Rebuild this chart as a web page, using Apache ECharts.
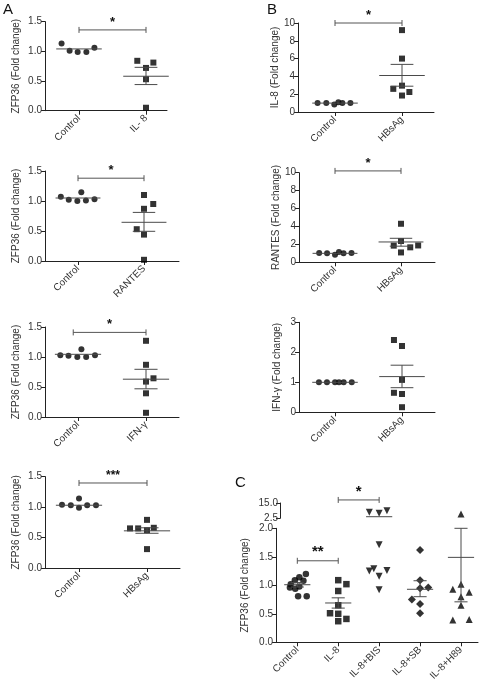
<!DOCTYPE html>
<html><head><meta charset="utf-8">
<script src="https://cdn.jsdelivr.net/npm/echarts@6/dist/echarts.min.js"></script>
<style>html,body{margin:0;padding:0;background:#fff}#c{width:484px;height:692px}</style>
</head><body><div id="c"></div>
<script>
// ================= DATA =================
// Panel A1: ZFP36 after IL-8
const a1Categories = ['Control', 'IL- 8'];
const a1Control = [1.13, 1.01, 0.99, 0.99, 1.06];
const a1ControlJitter = [-0.26, -0.14, -0.02, 0.11, 0.23];
const a1Treated = [0.84, 0.81, 0.72, 0.53, 0.05];
const a1TreatedJitter = [-0.13, 0.11, 0, 0, 0];
const a1Mean = [1.04, 0.58];
const a1SemHigh = [null, 0.73];
const a1SemLow = [null, 0.44];
const a1Sig = [[1, 2, 1.36, '*']];

// Panel A2: ZFP36 after RANTES
const a2Categories = ['Control', 'RANTES'];
const a2Control = [1.07, 1.02, 1.0, 1.145, 1.01, 1.03];
const a2ControlJitter = [-0.26, -0.14, -0.01, 0.05, 0.12, 0.25];
const a2Treated = [1.1, 0.95, 0.87, 0.53, 0.44, 0.02];
const a2TreatedJitter = [0, 0.14, 0, -0.11, 0, 0];
const a2Mean = [1.05, 0.645];
const a2SemHigh = [null, 0.81];
const a2SemLow = [null, 0.495];
const a2Sig = [[1, 2, 1.38, '*']];

// Panel A3: ZFP36 after IFN-γ
const a3Categories = ['Control', 'IFN-γ'];
const a3Control = [1.03, 1.02, 1.0, 1.13, 1.0, 1.03];
const a3ControlJitter = [-0.26, -0.14, -0.01, 0.05, 0.12, 0.25];
const a3Treated = [1.27, 0.87, 0.645, 0.59, 0.395, 0.07];
const a3TreatedJitter = [0, 0, 0.11, 0, 0, 0];
const a3Mean = [1.045, 0.63];
const a3SemHigh = [null, 0.795];
const a3SemLow = [null, 0.47];
const a3Sig = [[0.93, 2, 1.41, '*']];

// Panel A4: ZFP36 after HBsAg
const a4Categories = ['Control', 'HBsAg'];
const a4Control = [1.04, 1.03, 1.14, 0.99, 1.03, 1.03];
const a4ControlJitter = [-0.25, -0.12, 0, 0, 0.12, 0.25];
const a4Treated = [0.79, 0.65, 0.65, 0.66, 0.62, 0.31];
const a4TreatedJitter = [0, -0.25, -0.13, 0.1, 0, 0];
const a4Mean = [1.03, 0.61];
const a4SemHigh = [null, 0.66];
const a4SemLow = [null, 0.57];
const a4Sig = [[1, 2, 1.395, '***']];

// Panel B1: IL-8 after HBsAg
const b1Categories = ['Control', 'HBsAg'];
const b1Control = [1.0, 1.0, 0.85, 1.1, 1.0, 1.0];
const b1ControlJitter = [-0.26, -0.13, -0.01, 0.05, 0.11, 0.23];
const b1Treated = [9.2, 6.0, 2.96, 2.6, 2.25, 1.85];
const b1TreatedJitter = [0, 0, 0, -0.13, 0.11, 0];
const b1Mean = [1.0, 4.1];
const b1SemHigh = [null, 5.35];
const b1SemLow = [null, 2.9];
const b1Sig = [[1, 2, 10.0, '*']];

// Panel B2: RANTES after HBsAg
const b2Categories = ['Control', 'HBsAg'];
const b2Control = [1.05, 1.0, 0.85, 1.15, 1.0, 1.05];
const b2ControlJitter = [-0.24, -0.12, 0, 0.06, 0.13, 0.25];
const b2Treated = [4.3, 2.38, 1.86, 1.67, 1.88, 1.1];
const b2TreatedJitter = [0, 0, -0.11, 0.14, 0.26, 0];
const b2Mean = [1.0, 2.27];
const b2SemHigh = [null, 2.68];
const b2SemLow = [null, 1.8];
const b2Sig = [[1, 2, 10.2, '*']];

// Panel B3: IFN-γ after HBsAg
const b3Categories = ['Control', 'HBsAg'];
const b3Control = [1.0, 1.0, 1.0, 1.0, 1.0, 1.0];
const b3ControlJitter = [-0.24, -0.12, 0, 0.06, 0.13, 0.25];
const b3Treated = [2.41, 2.21, 1.08, 0.65, 0.61, 0.17];
const b3TreatedJitter = [-0.12, 0, 0, -0.12, 0, 0];
const b3Mean = [1.0, 1.19];
const b3SemHigh = [null, 1.57];
const b3SemLow = [null, 0.82];
const b3Sig = [];

// Panel C: ZFP36 with inhibitors (broken y axis)
const cCategories = ['Control', 'IL-8', 'IL-8+BIS', 'IL-8+SB', 'IL-8+H89'];
const cControl = [1.2, 1.14, 1.09, 1.08, 1.02, 0.96, 0.98, 0.94, 0.81, 0.81];
const cControlJitter = [0.21, 0.05, -0.06, 0.15, -0.16, -0.18, 0.05, -0.05, 0.02, 0.23];
const cIl8 = [1.09, 1.02, 0.9, 0.65, 0.51, 0.5, 0.41, 0.37];
const cIl8Jitter = [0, 0.2, 0, 0, -0.2, 0, 0.2, 0];
const cBis = [8.7, 7.4, 6.6, 1.71, 1.29, 1.25, 1.26, 1.16, 0.92];
const cBisJitter = [0.19, -0.24, 0, 0, -0.13, -0.24, 0.19, 0, 0];
const cSb = [1.62, 1.09, 0.95, 0.96, 0.75, 0.67, 0.51];
const cSbJitter = [0, 0, 0, 0.2, -0.2, 0, 0];
const cH89 = [6.0, 1.02, 0.93, 0.88, 0.8, 0.65, 0.4, 0.39];
const cH89Jitter = [0, 0, -0.2, 0.2, 0, 0, 0.2, -0.2];
const cMean = [1.01, 0.69, 3.8, 0.93, 1.49];
const cSemHigh = [1.05, 0.78, null, 1.08, 2.0];
const cSemLow = [0.97, 0.6, null, 0.8, 0.71];
const cSig = [[1, 2, 1.43, '**'], [2, 3, 17.5, '*']];
const cBreakLow = [0, 2];      // lower segment range
const cBreakHigh = [2.5, 15];  // upper segment range

// ================= LAYOUT =================
const FONT = 'Liberation Sans, Arial, sans-serif';
const TXT = '#333';
const AX = '#222';
const LINE = '#4a4a4a';

const panels = [
  {cats:a1Categories, groups:[[a1Control,a1ControlJitter,'circle'],[a1Treated,a1TreatedJitter,'rect']], mean:a1Mean, hi:a1SemHigh, lo:a1SemLow, sig:a1Sig,
   L:{left:45,right:167,top:21.6,bottom:110.7,xs:[79,146]}, y:{max:1.5,interval:0.5,dec:1}, name:'ZFP36 (Fold change)', nameGap:24},
  {cats:a2Categories, groups:[[a2Control,a2ControlJitter,'circle'],[a2Treated,a2TreatedJitter,'rect']], mean:a2Mean, hi:a2SemHigh, lo:a2SemLow, sig:a2Sig,
   L:{left:45,right:179,top:171,bottom:261,xs:[78,144]}, y:{max:1.5,interval:0.5,dec:1}, name:'ZFP36 (Fold change)', nameGap:24},
  {cats:a3Categories, groups:[[a3Control,a3ControlJitter,'circle'],[a3Treated,a3TreatedJitter,'rect']], mean:a3Mean, hi:a3SemHigh, lo:a3SemLow, sig:a3Sig,
   L:{left:45,right:179,top:327,bottom:417,xs:[78,146]}, y:{max:1.5,interval:0.5,dec:1}, name:'ZFP36 (Fold change)', nameGap:24},
  {cats:a4Categories, groups:[[a4Control,a4ControlJitter,'circle'],[a4Treated,a4TreatedJitter,'rect']], mean:a4Mean, hi:a4SemHigh, lo:a4SemLow, sig:a4Sig,
   L:{left:45,right:180,top:476.6,bottom:568,xs:[79,147]}, y:{max:1.5,interval:0.5,dec:1}, name:'ZFP36 (Fold change)', nameGap:24},
  {cats:b1Categories, groups:[[b1Control,b1ControlJitter,'circle'],[b1Treated,b1TreatedJitter,'rect']], mean:b1Mean, hi:b1SemHigh, lo:b1SemLow, sig:b1Sig,
   L:{left:298,right:434,top:23,bottom:112,xs:[335,402]}, y:{max:10,interval:2,dec:0}, name:'IL-8 (Fold change)', nameGap:17},
  {cats:b2Categories, groups:[[b2Control,b2ControlJitter,'circle'],[b2Treated,b2TreatedJitter,'rect']], mean:b2Mean, hi:b2SemHigh, lo:b2SemLow, sig:b2Sig,
   L:{left:299,right:435,top:172.7,bottom:262.3,xs:[335,401]}, y:{max:10,interval:2,dec:0}, name:'RANTES (Fold change)', nameGap:17},
  {cats:b3Categories, groups:[[b3Control,b3ControlJitter,'circle'],[b3Treated,b3TreatedJitter,'rect']], mean:b3Mean, hi:b3SemHigh, lo:b3SemLow, sig:b3Sig,
   L:{left:299,right:435,top:322.3,bottom:412.3,xs:[335,402]}, y:{max:3,interval:1,dec:0}, name:'IFN-γ (Fold change)', nameGap:17}
];

const grids = [], xAxes = [], yAxes = [], series = [];

function xRange(L, n) {
  const unit = (L.xs[L.xs.length - 1] - L.xs[0]) / (n - 1);
  return {min: 1 - (L.xs[0] - L.left) / unit, max: n + (L.right - L.xs[L.xs.length - 1]) / unit};
}

function meanRenderer(halfMean, halfSem) {
  return function (params, api) {
    const g = api.value(0), m = api.value(1), hi = api.value(2), lo = api.value(3);
    const st = {stroke: LINE, lineWidth: 1};
    const a = api.coord([g - halfMean, m]), b = api.coord([g + halfMean, m]);
    const ch = [{type: 'line', shape: {x1: a[0], y1: a[1], x2: b[0], y2: b[1]}, style: st}];
    if (hi !== m || lo !== m) {
      const ph = api.coord([g, hi]), pl = api.coord([g, lo]);
      const w1 = api.coord([g - halfSem, hi]), w2 = api.coord([g + halfSem, hi]);
      const w3 = api.coord([g - halfSem, lo]), w4 = api.coord([g + halfSem, lo]);
      ch.push({type: 'line', shape: {x1: ph[0], y1: ph[1], x2: pl[0], y2: pl[1]}, style: st});
      ch.push({type: 'line', shape: {x1: w1[0], y1: w1[1], x2: w2[0], y2: w2[1]}, style: st});
      ch.push({type: 'line', shape: {x1: w3[0], y1: w3[1], x2: w4[0], y2: w4[1]}, style: st});
    }
    return {type: 'group', children: ch};
  };
}

function sigRenderer(sigList, fontSize) {
  return function (params, api) {
    const s = sigList[params.dataIndex];
    const a = api.coord([s[0], s[2]]), b = api.coord([s[1], s[2]]);
    const st = {stroke: '#555', lineWidth: 1};
    return {type: 'group', children: [
      {type: 'line', shape: {x1: a[0], y1: a[1], x2: b[0], y2: b[1]}, style: st},
      {type: 'line', shape: {x1: a[0], y1: a[1] - 3, x2: a[0], y2: a[1] + 3}, style: st},
      {type: 'line', shape: {x1: b[0], y1: b[1] - 3, x2: b[0], y2: b[1] + 3}, style: st},
      {type: 'text', x: (a[0] + b[0]) / 2, y: a[1] - 1, style: {text: s[3], fill: '#111', font: 'bold ' + fontSize + 'px ' + FONT, align: 'center', verticalAlign: 'bottom'}}
    ]};
  };
}

function xAxisFor(gi, cats, r, show) {
  const vals = cats.map((c, i) => i + 1);
  return {
    gridIndex: gi, type: 'value', min: r.min, max: r.max, show: show,
    splitLine: {show: false},
    axisLine: {show: true, onZero: false, lineStyle: {color: AX, width: 1}},
    axisTick: {show: true, customValues: vals, length: 4, lineStyle: {color: AX}},
    axisLabel: {show: true, customValues: vals, rotate: 45, margin: 6, fontSize: 10, color: TXT, fontFamily: FONT,
      formatter: v => cats[Math.round(v) - 1] || ''}
  };
}

panels.forEach((p, gi) => {
  const L = p.L;
  grids.push({left: L.left, top: L.top, width: L.right - L.left, height: L.bottom - L.top});
  const r = xRange(L, p.cats.length);
  xAxes.push(xAxisFor(gi, p.cats, r, true));
  yAxes.push({
    gridIndex: gi, type: 'value', min: 0, max: p.y.max, interval: p.y.interval,
    splitLine: {show: false},
    axisLine: {show: true, lineStyle: {color: AX}},
    axisTick: {show: true, length: 4, lineStyle: {color: AX}},
    axisLabel: {fontSize: 10, color: TXT, fontFamily: FONT, margin: 3, formatter: v => v.toFixed(p.y.dec)},
    name: p.name, nameLocation: 'middle', nameGap: p.nameGap,
    nameTextStyle: {fontSize: 10, color: TXT, fontFamily: FONT}
  });
  p.groups.forEach((g, k) => {
    series.push({
      type: 'scatter', xAxisIndex: gi, yAxisIndex: gi, symbol: g[2], symbolSize: g[2] === 'rect' ? 6 : 6,
      itemStyle: {color: '#000'}, silent: true,
      data: g[0].map((v, i) => [k + 1 + g[1][i], v])
    });
  });
  series.push({
    type: 'custom', xAxisIndex: gi, yAxisIndex: gi, silent: true, z: 3,
    renderItem: meanRenderer(0.34, 0.17),
    data: p.mean.map((m, i) => [i + 1, m, p.hi[i] == null ? m : p.hi[i], p.lo[i] == null ? m : p.lo[i]])
  });
  if (p.sig.length) {
    series.push({
      type: 'custom', xAxisIndex: gi, yAxisIndex: gi, silent: true,
      renderItem: sigRenderer(p.sig, p.sig[0][3].length > 1 ? 12 : 13),
      data: p.sig.map(s => [s[0], s[2]])
    });
  }
});

// ----- Panel C: two stacked grids (broken axis) -----
const CL = {left: 276, right: 478, xs: [297.3, 339.3, 379.7, 420.3, 461]};
const cLowerTop = 528.3, cLowerBottom = 642.3, cUpperTop = 503, cUpperBottom = 518.3;
const cr = xRange({left: CL.left, right: CL.right, xs: [CL.xs[0], CL.xs[4]]}, 5);
const giLow = grids.length, giHigh = grids.length + 1;
grids.push({left: CL.left, top: cLowerTop, width: CL.right - CL.left, height: cLowerBottom - cLowerTop});
grids.push({left: CL.left, top: cUpperTop, width: CL.right - CL.left, height: cUpperBottom - cUpperTop});
xAxes.push(xAxisFor(giLow, cCategories, cr, true));
xAxes.push(Object.assign(xAxisFor(giHigh, cCategories, cr, false)));
yAxes.push({
  gridIndex: giLow, type: 'value', min: cBreakLow[0], max: cBreakLow[1], interval: 0.5,
  splitLine: {show: false},
  axisLine: {show: true, lineStyle: {color: AX}},
  axisTick: {show: true, length: 4, lineStyle: {color: AX}},
  axisLabel: {fontSize: 10, color: TXT, fontFamily: FONT, margin: 3, formatter: v => v.toFixed(1)},
  name: 'ZFP36 (Fold change)', nameLocation: 'middle', nameGap: 26,
  nameTextStyle: {fontSize: 10, color: TXT, fontFamily: FONT}
});
yAxes.push({
  gridIndex: giHigh, type: 'value', min: cBreakHigh[0], max: cBreakHigh[1], offset: -4,
  splitLine: {show: false},
  axisLine: {show: true, lineStyle: {color: AX}},
  axisTick: {show: true, length: 4, customValues: cBreakHigh, lineStyle: {color: AX}},
  axisLabel: {fontSize: 10, color: TXT, fontFamily: FONT, margin: 2, customValues: cBreakHigh, formatter: v => v.toFixed(1)}
});

const cGroups = [[cControl, cControlJitter, 'circle', 0], [cIl8, cIl8Jitter, 'rect', 0], [cBis, cBisJitter, 'triangle', 180], [cSb, cSbJitter, 'diamond', 0], [cH89, cH89Jitter, 'triangle', 0]];
cGroups.forEach((g, k) => {
  const low = [], high = [];
  g[0].forEach((v, i) => {
    const pt = [k + 1 + g[1][i], v];
    if (v > cBreakLow[1]) high.push(pt); else low.push(pt);
  });
  const size = g[2] === 'diamond' ? 8 : (g[2] === 'triangle' ? 7 : 6.5);
  [[giLow, low], [giHigh, high]].forEach(([gi, d]) => {
    if (!d.length) return;
    series.push({type: 'scatter', xAxisIndex: gi, yAxisIndex: gi, symbol: g[2], symbolRotate: g[3], symbolSize: size,
      itemStyle: {color: '#000'}, silent: true, data: d});
  });
});
const cMeanLow = [], cMeanHigh = [];
cMean.forEach((m, i) => {
  const item = [i + 1, m, cSemHigh[i] == null ? m : cSemHigh[i], cSemLow[i] == null ? m : cSemLow[i]];
  if (m > cBreakLow[1]) cMeanHigh.push(item); else cMeanLow.push(item);
});
series.push({type: 'custom', xAxisIndex: giLow, yAxisIndex: giLow, silent: true, z: 3, renderItem: meanRenderer(0.32, 0.16), data: cMeanLow});
series.push({type: 'custom', xAxisIndex: giHigh, yAxisIndex: giHigh, silent: true, z: 3, renderItem: meanRenderer(0.32, 0.16), data: cMeanHigh});
const cSigLow = cSig.filter(s => s[2] <= cBreakLow[1]);
const cSigHigh = cSig.filter(s => s[2] > cBreakLow[1]);
series.push({type: 'custom', xAxisIndex: giLow, yAxisIndex: giLow, silent: true, renderItem: sigRenderer(cSigLow, 15), data: cSigLow.map(s => [s[0], s[2]])});
series.push({type: 'custom', xAxisIndex: giHigh, yAxisIndex: giHigh, silent: true, renderItem: sigRenderer(cSigHigh, 15), data: cSigHigh.map(s => [s[0], s[2]])});

const option = {
  animation: false,
  backgroundColor: '#fff',
  grid: grids, xAxis: xAxes, yAxis: yAxes, series: series,
  graphic: [
    {type: 'text', left: 3, top: 2, style: {text: 'A', font: '15px ' + FONT, fill: '#111'}},
    {type: 'text', left: 267, top: 2, style: {text: 'B', font: '15px ' + FONT, fill: '#111'}},
    {type: 'text', left: 235, top: 475, style: {text: 'C', font: '15px ' + FONT, fill: '#111'}}
  ]
};
const chart = echarts.init(document.getElementById('c'), null, {renderer: 'canvas'});
chart.setOption(option);
</script></body></html>
